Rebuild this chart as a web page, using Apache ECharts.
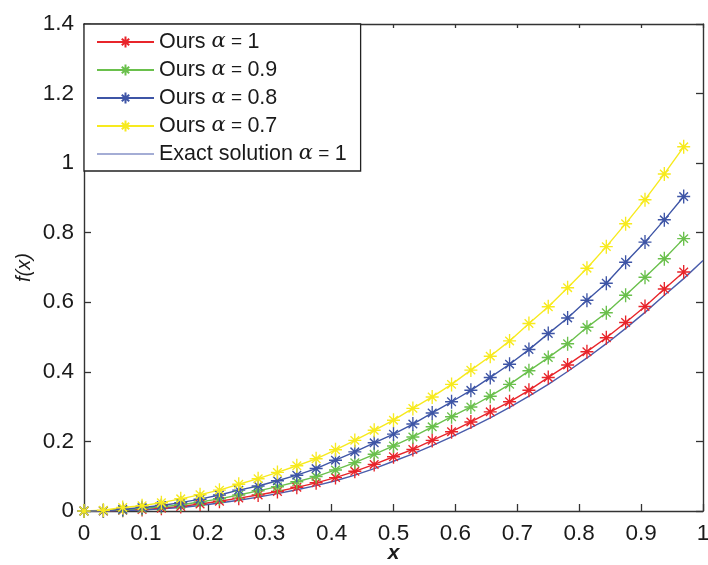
<!DOCTYPE html>
<html>
<head>
<meta charset="utf-8">
<script src="https://cdn.jsdelivr.net/npm/echarts@6/dist/echarts.min.js"></script>
<style>
  html, body { margin: 0; padding: 0; background: #fff; }
  #chart { width: 708px; height: 565px; }
</style>
</head>
<body>
<div id="chart"></div>
<script>
// x sampling of the curves
const xVals = [0, 0.0313, 0.0625, 0.0938, 0.125, 0.1563, 0.1875, 0.2188, 0.25, 0.2813,
  0.3125, 0.3438, 0.375, 0.4063, 0.4375, 0.4688, 0.5, 0.5313, 0.5625, 0.5938,
  0.625, 0.6563, 0.6875, 0.7188, 0.75, 0.7813, 0.8125, 0.8438, 0.875, 0.9063,
  0.9375, 0.9688, 1];

// Ours α=1
const ours10 = [0, 0, 0.002, 0.004, 0.008, 0.013, 0.020, 0.028, 0.037, 0.046,
  0.056, 0.068, 0.081, 0.096, 0.114, 0.134, 0.156, 0.177, 0.203, 0.228,
  0.256, 0.285, 0.314, 0.347, 0.384, 0.420, 0.458, 0.498, 0.542, 0.588,
  0.638, 0.687];
// Ours α=0.9
const ours09 = [0, 0.001, 0.003, 0.007, 0.012, 0.018, 0.026, 0.035, 0.046, 0.058,
  0.070, 0.084, 0.099, 0.118, 0.139, 0.163, 0.187, 0.213, 0.242, 0.271,
  0.299, 0.330, 0.364, 0.403, 0.441, 0.481, 0.528, 0.570, 0.620, 0.672,
  0.725, 0.783];
// Ours α=0.8
const ours08 = [0, 0.001, 0.005, 0.010, 0.016, 0.024, 0.034, 0.046, 0.060, 0.072,
  0.087, 0.103, 0.122, 0.146, 0.170, 0.196, 0.221, 0.250, 0.282, 0.314,
  0.347, 0.384, 0.422, 0.464, 0.510, 0.555, 0.606, 0.655, 0.715, 0.773,
  0.837, 0.904];
// Ours α=0.7
const ours07 = [0, 0.002, 0.010, 0.015, 0.024, 0.035, 0.047, 0.060, 0.077, 0.093,
  0.111, 0.130, 0.150, 0.176, 0.203, 0.232, 0.261, 0.295, 0.328, 0.364,
  0.405, 0.445, 0.489, 0.539, 0.587, 0.642, 0.698, 0.760, 0.826, 0.895,
  0.969, 1.047];
// Exact solution α=1
const exact10 = [0, 0, 0.001, 0.003, 0.006, 0.010, 0.016, 0.023, 0.031, 0.040,
  0.050, 0.061, 0.073, 0.087, 0.103, 0.122, 0.143, 0.164, 0.188, 0.213,
  0.240, 0.268, 0.298, 0.330, 0.364, 0.401, 0.440, 0.481, 0.525, 0.571,
  0.620, 0.668, 0.720];

const seriesNames = ['Ours α=1', 'Ours α=0.9', 'Ours α=0.8', 'Ours α=0.7', 'Exact solution α=1'];
const seriesColors = ['#e8252b', '#6ac04c', '#3e55a6', '#f7ea1e', '#4a5cab'];

// asterisk marker like matlab '*'
const STAR = 'path://M0,-10L0,10M-9,0L9,0M-6,-6L6,6M-6,6L6,-6';
// plain line for the legend entry of the exact solution
const LINE_ICON = 'path://M0,6.4L58,6.4L58,7.6L0,7.6Z';

const font = 'Liberation Sans, Arial, sans-serif';
const chart = echarts.init(document.getElementById('chart'));

function pairs(ys) { return ys.map((y, i) => [xVals[i], y]); }

function oursSeries(name, ys, color) {
  return {
    name, type: 'line', data: pairs(ys),
    symbol: STAR, symbolSize: [13, 14], showSymbol: true,
    lineStyle: { color, width: 1.4 },
    itemStyle: { color: 'rgba(0,0,0,0)', borderColor: color, borderWidth: 1.4 },
    emphasis: { disabled: true },
  };
}

const series = [
  oursSeries(seriesNames[0], ours10, seriesColors[0]),
  oursSeries(seriesNames[1], ours09, seriesColors[1]),
  oursSeries(seriesNames[2], ours08, seriesColors[2]),
  oursSeries(seriesNames[3], ours07, seriesColors[3]),
  {
    name: seriesNames[4], type: 'line', data: pairs(exact10),
    symbol: 'none', showSymbol: false,
    lineStyle: { color: seriesColors[4], width: 1.4 },
    itemStyle: { color: seriesColors[4] },
    emphasis: { disabled: true },
  },
];

const axisLine = { show: true, onZero: false, lineStyle: { color: '#333', width: 1.4 } };
const axisTick = { show: true, inside: true, length: 7, lineStyle: { color: '#333', width: 1.3 } };

// "Ours α=1" -> α in italic serif
function legendText(name) {
  const i = name.indexOf('α');
  return name.slice(0, i) + '{a|α}{e| = }' + name.slice(i + 2);
}

chart.setOption({
  backgroundColor: '#fff',
  animation: false,
  grid: { left: 84, right: 5, top: 24, bottom: 54, outerBoundsMode: 'none', containLabel: false },
  legend: {
    orient: 'vertical', left: 84, top: 24,
    padding: [7, 14, 6, 12], itemGap: 6,
    itemWidth: 57, itemHeight: 14,
    backgroundColor: '#fff', borderColor: '#222', borderWidth: 1.3,
    formatter: legendText,
    textStyle: {
      fontFamily: font, fontSize: 21.5, lineHeight: 22, color: '#1a1a1a',
      rich: {
        a: { fontFamily: 'DejaVu Serif, serif', fontStyle: 'italic', fontSize: 21, lineHeight: 22, color: '#1a1a1a' },
        e: { fontFamily: font, fontSize: 19, lineHeight: 22, color: '#1a1a1a' },
      },
    },
    data: seriesNames.map((n, i) => (i === 4 ? { name: n, icon: LINE_ICON } : n)),
  },
  xAxis: [
    {
      type: 'value', min: 0, max: 1, interval: 0.1,
      name: 'x', nameLocation: 'middle', nameGap: 32, nameMoveOverlap: false,
      nameTextStyle: { fontFamily: font, fontSize: 21, fontStyle: 'italic', fontWeight: 'bold', color: '#1a1a1a' },
      axisLine, axisTick,
      axisLabel: { fontFamily: font, fontSize: 22.5, color: '#1a1a1a', margin: 11 },
      splitLine: { show: false },
    },
    {
      type: 'value', min: 0, max: 1, interval: 0.1, position: 'top',
      axisLine, axisTick: { ...axisTick, length: 4 }, axisLabel: { show: false }, splitLine: { show: false },
    },
  ],
  yAxis: [
    {
      type: 'value', min: 0, max: 1.4, interval: 0.2,
      name: 'f(x)', nameLocation: 'middle', nameGap: 50, nameRotate: 90, nameMoveOverlap: false,
      nameTextStyle: { fontFamily: font, fontSize: 20, fontStyle: 'italic', color: '#1a1a1a' },
      axisLine, axisTick,
      axisLabel: { fontFamily: font, fontSize: 22.5, color: '#1a1a1a', margin: 10 },
      splitLine: { show: false },
    },
    {
      type: 'value', min: 0, max: 1.4, interval: 0.2, position: 'right',
      axisLine, axisTick, axisLabel: { show: false }, splitLine: { show: false },
    },
  ],
  series,
});
</script>
</body>
</html>
